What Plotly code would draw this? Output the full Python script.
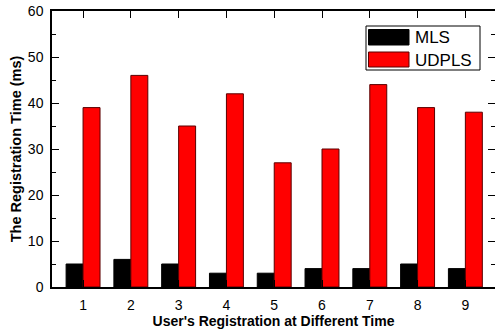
import plotly.graph_objects as go

categories = [1, 2, 3, 4, 5, 6, 7, 8, 9]
series_names = ["MLS", "UDPLS"]
mls_values = [5, 6, 5, 3, 3, 4, 4, 5, 4]
udpls_values = [39, 46, 35, 42, 27, 30, 44, 39, 38]
y_ticks = [0, 10, 20, 30, 40, 50, 60]
x_title = "User's Registration at Different Time"
y_title = "The Registration Time (ms)"

FONT = "Liberation Sans, Arial, sans-serif"

fig = go.Figure()
fig.add_trace(go.Bar(x=categories, y=mls_values, name=series_names[0],
                     marker=dict(color="#000000", line=dict(color="#000000", width=1))))
fig.add_trace(go.Bar(x=categories, y=udpls_values, name=series_names[1],
                     marker=dict(color="#ff0000", line=dict(color="#5a0000", width=1))))
# invisible trace to carry the right-hand tick axis
fig.add_trace(go.Scatter(x=[categories[0]], y=[0], yaxis="y2", mode="markers",
                         marker=dict(opacity=0), hoverinfo="skip", showlegend=False))

W, H = 495, 331
ml, mt, mb, mr = 52, 11, 44, 0
pw, ph = W - ml - mr, H - mt - mb

def px(x):
    return (x - ml) / pw

def py(y):
    return (H - mb - y) / ph

shapes = [
    dict(type="rect", xref="paper", yref="paper", x0=px(366), x1=px(480), y0=py(70), y1=py(26),
         line=dict(color="#000000", width=1), fillcolor="#ffffff", layer="above"),
    dict(type="rect", xref="paper", yref="paper", x0=px(368.5), x1=px(409), y0=py(45), y1=py(29.5),
         line=dict(color="#000000", width=1), fillcolor="#000000", layer="above"),
    dict(type="rect", xref="paper", yref="paper", x0=px(368.5), x1=px(409), y0=py(67), y1=py(52),
         line=dict(color="#5a0000", width=1), fillcolor="#ff0000", layer="above"),
]
annotations = [
    dict(text=series_names[0], xref="paper", yref="paper", x=px(413), y=py(37.5),
         xanchor="left", yanchor="middle", showarrow=False, font=dict(family=FONT, size=17, color="#000")),
    dict(text=series_names[1], xref="paper", yref="paper", x=px(413), y=py(60),
         xanchor="left", yanchor="middle", showarrow=False, font=dict(family=FONT, size=17, color="#000")),
]

fig.update_layout(
    width=W, height=H,
    margin=dict(l=ml, r=mr, t=mt, b=mb, pad=0),
    paper_bgcolor="#ffffff", plot_bgcolor="#ffffff",
    barmode="group", bargap=0.29, bargroupgap=0,
    showlegend=False,
    font=dict(family=FONT, size=14, color="#000000"),
    shapes=shapes, annotations=annotations,
    yaxis2=dict(overlaying="y", side="right", range=[0, 60], tickvals=y_ticks,
                showticklabels=False, showgrid=False, zeroline=False, showline=False,
                ticks="inside", ticklen=7, tickwidth=1.2, tickcolor="#000",
                minor=dict(dtick=5, ticks="inside", ticklen=4, tickwidth=1, tickcolor="#000", showgrid=False)),
)
fig.update_xaxes(
    range=[0.35, 9.62], tickvals=categories, ticktext=[str(c) for c in categories],
    showgrid=False, zeroline=False, showline=True, linecolor="#000", linewidth=1.5,
    mirror="ticks", ticks="inside", ticklen=7, tickwidth=1.2, tickcolor="#000",
    ticklabelstandoff=4,
    tickfont=dict(size=14),
    title=dict(text="<b>" + x_title + "</b>", font=dict(size=14), standoff=1),
)
fig.update_yaxes(
    selector=dict(anchor="x"),
    range=[0, 60], tickvals=y_ticks,
    showgrid=False, zeroline=False, showline=True, linecolor="#000", linewidth=1.5,
    mirror=False, ticks="inside", ticklen=7, tickwidth=1.2, tickcolor="#000",
    minor=dict(dtick=5, ticks="inside", ticklen=4, tickwidth=1, tickcolor="#000", showgrid=False),
    ticklabelstandoff=4,
    tickfont=dict(size=14),
    title=dict(text="<b>" + y_title + "</b>", font=dict(size=14.5), standoff=3),
)
fig.layout.yaxis.update(range=[0, 60], tickvals=y_ticks, showline=True, linecolor="#000",
                        linewidth=1.5, mirror=False, ticks="inside", ticklen=7, tickwidth=1.2,
                        tickcolor="#000", showgrid=False, zeroline=False,
                        minor=dict(dtick=5, ticks="inside", ticklen=4, tickwidth=1,
                                   tickcolor="#000", showgrid=False),
                        ticklabelstandoff=4, tickfont=dict(size=14),
                        title=dict(text="<b>" + y_title + "</b>", font=dict(size=14.5), standoff=3))

fig.write_html("out.html")
